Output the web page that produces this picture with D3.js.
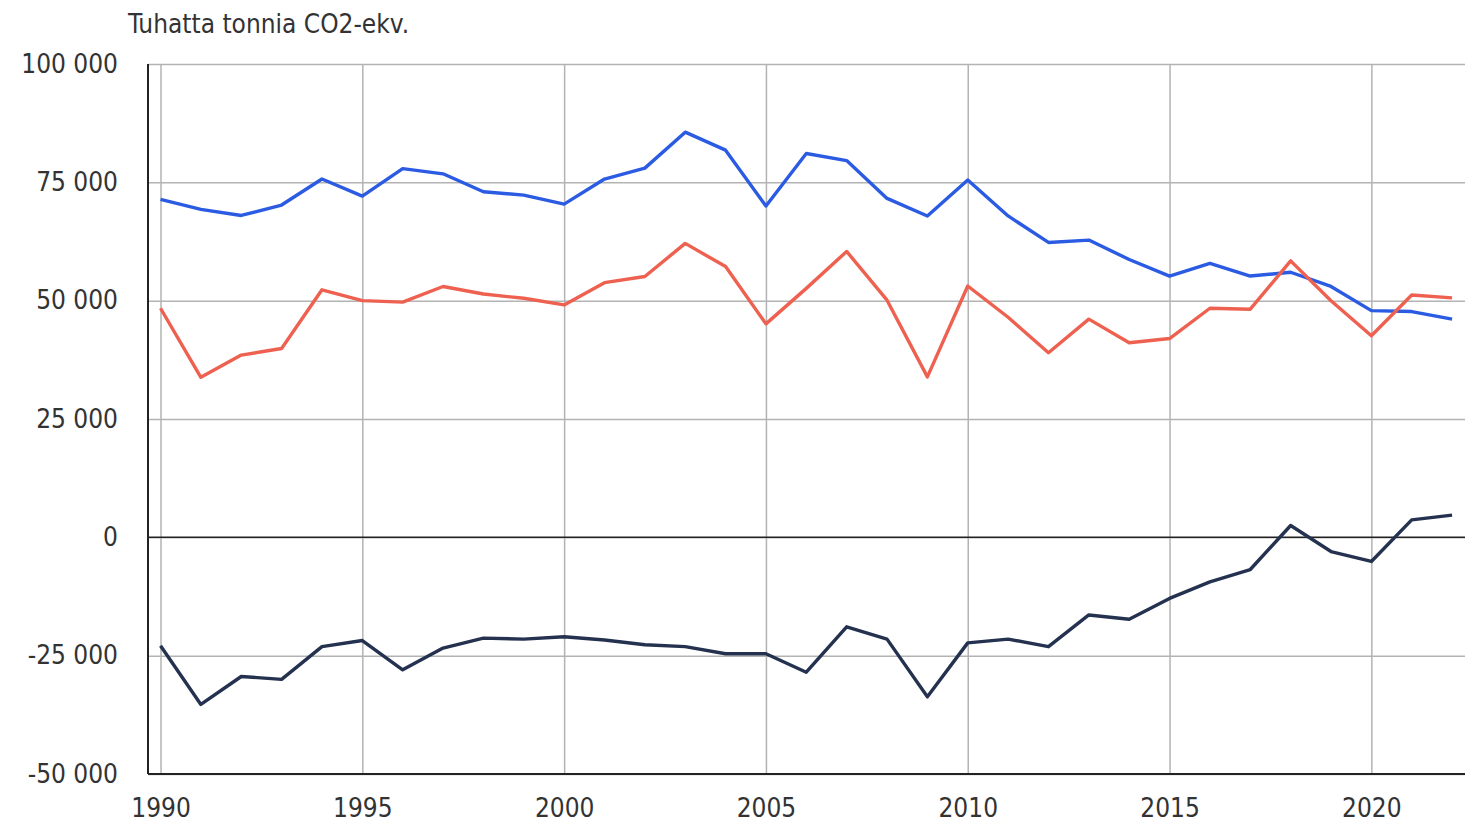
<!DOCTYPE html>
<html>
<head>
<meta charset="utf-8">
<script src="https://cdn.jsdelivr.net/npm/d3@7"></script>
<style>
  html, body { margin: 0; padding: 0; background: #fff; }
  svg text { font-family: "DejaVu Sans Condensed", "Liberation Sans Narrow", "Roboto", sans-serif; fill: #333; }
</style>
</head>
<body>
<svg id="chart" width="1474" height="824"></svg>
<script>
const years = d3.range(1990, 2023);
const blueSeries = [71400, 69300, 68000, 70200, 75700, 72100, 77900, 76800, 73000, 72300,
  70400, 75700, 78000, 85600, 81800, 70000, 81100, 79600, 71600, 67900,
  75500, 67900, 62300, 62800, 58700, 55200, 57900, 55200, 56000, 53000,
  47900, 47700, 46100];
const redSeries = [48400, 33800, 38500, 39900, 52300, 50000, 49700, 53000, 51400, 50500,
  49100, 53800, 55100, 62100, 57200, 45100, 52600, 60400, 50100, 33900,
  53100, 46500, 39000, 46100, 41100, 42000, 48400, 48200, 58400, 50000,
  42600, 51200, 50600];
const navySeries = [-22900, -35300, -29400, -30000, -23100, -21800, -28000, -23400, -21300, -21500,
  -21000, -21700, -22700, -23100, -24600, -24600, -28500, -18900, -21500, -33700,
  -22300, -21500, -23100, -16400, -17300, -12900, -9400, -6800, 2500, -3000,
  -5100, 3700, 4700];
const yTicks = [-50000, -25000, 0, 25000, 50000, 75000, 100000];
const xTicks = [1990, 1995, 2000, 2005, 2010, 2015, 2020];
const unitLabel = "Tuhatta tonnia CO2-ekv.";

const svg = d3.select("#chart");
const mLeft = 148, mRight = 1465, mTop = 64, mBottom = 774;

const x = d3.scaleLinear().domain([1989.69, 2022.32]).range([mLeft, mRight]);
const y = d3.scaleLinear().domain([-50000, 100000]).range([mBottom, mTop]);

const fmt = v => d3.format(",")(v).replace(/,/g, " ").replace("\u2212", "-");

// horizontal grid
svg.append("g")
  .attr("transform", `translate(${mLeft},0)`)
  .call(d3.axisLeft(y).tickValues(yTicks).tickSize(-(mRight - mLeft)).tickFormat(""))
  .call(g => g.select(".domain").remove())
  .call(g => g.selectAll(".tick line").attr("stroke", "#b3b3b3").attr("stroke-width", 1.5));

// vertical grid
svg.append("g")
  .attr("transform", `translate(0,${mBottom})`)
  .call(d3.axisBottom(x).tickValues(xTicks).tickSize(-(mBottom - mTop)).tickFormat(""))
  .call(g => g.select(".domain").remove())
  .call(g => g.selectAll(".tick line").attr("stroke", "#b3b3b3").attr("stroke-width", 1.5));

// y labels
svg.append("g")
  .attr("transform", `translate(${mLeft},0)`)
  .call(d3.axisLeft(y).tickValues(yTicks).tickSize(0).tickPadding(30).tickFormat(fmt))
  .call(g => g.select(".domain").remove())
  .call(g => g.selectAll("text").attr("font-size", 26).attr("fill", "#333"));

// x labels
svg.append("g")
  .attr("transform", `translate(0,${mBottom})`)
  .call(d3.axisBottom(x).tickValues(xTicks).tickSize(0).tickPadding(25).tickFormat(d3.format("d")))
  .call(g => g.select(".domain").remove())
  .call(g => g.selectAll("text").attr("font-size", 26).attr("fill", "#333"));

// axis lines
svg.append("line").attr("x1", mLeft).attr("x2", mLeft).attr("y1", mTop).attr("y2", mBottom)
  .attr("stroke", "#222").attr("stroke-width", 2);
svg.append("line").attr("x1", mLeft).attr("x2", mRight).attr("y1", mBottom).attr("y2", mBottom)
  .attr("stroke", "#222").attr("stroke-width", 2);
svg.append("line").attr("x1", mLeft).attr("x2", mRight).attr("y1", y(0)).attr("y2", y(0))
  .attr("stroke", "#222").attr("stroke-width", 1.5);

const line = d3.line().x((d, i) => x(years[i])).y(d => y(d));
const series = [
  { data: blueSeries, color: "#2b5be2" },
  { data: redSeries, color: "#ee6150" },
  { data: navySeries, color: "#243250" }
];
series.forEach(s => {
  svg.append("path").datum(s.data)
    .attr("d", line)
    .attr("fill", "none")
    .attr("stroke", s.color)
    .attr("stroke-width", 3.4)
    .attr("stroke-linejoin", "round");
});

svg.append("text").attr("x", 128).attr("y", 33)
  .attr("font-size", 26).attr("fill", "#222").text(unitLabel);
</script>
</body>
</html>
